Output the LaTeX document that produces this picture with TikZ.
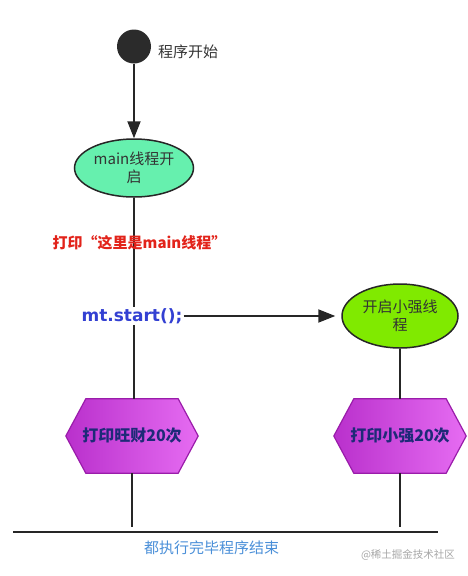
\documentclass[tikz,border=0pt]{standalone}
\usepackage{fontspec}
\setmainfont{Noto Sans CJK SC}
\newfontfamily\codefont{DejaVu Sans}
\usepackage{tikz}
\usetikzlibrary{arrows.meta,shapes.geometric,backgrounds}

\definecolor{dotgray}{HTML}{2B2B2B}
\definecolor{mainfill}{HTML}{66F0AE}
\definecolor{subfill}{HTML}{80EA00}
\definecolor{hexleft}{HTML}{B930CC}
\definecolor{hexright}{HTML}{E66CF2}
\definecolor{hexborder}{HTML}{9A1CAA}
\definecolor{hextext}{HTML}{1E2A78}
\definecolor{notered}{HTML}{E2231A}
\definecolor{codeblue}{HTML}{3340D2}
\definecolor{endblue}{HTML}{4A8FD8}

\begin{document}
\begin{tikzpicture}[x=1pt, y=-1pt,
    startdot/.style={circle, fill=dotgray, minimum size=34pt, inner sep=0pt},
    plaintext/.style={font=\fontsize{15}{18}\selectfont, text=black!80, inner sep=1pt},
    thread/.style={ellipse, draw=black!85, line width=1.5pt, minimum width=119pt, minimum height=58pt,
        align=center, inner sep=0pt, font=\fontsize{15}{17.5}\selectfont, text=black!80},
    codetext/.style={font=\codefont\bfseries\fontsize{17}{20}\selectfont, text=codeblue, inner sep=1pt},
    notetext/.style={font=\bfseries\fontsize{15}{18}\selectfont, text=notered, inner sep=1pt},
    taskbox/.style={rectangle, minimum width=132pt, minimum height=74pt, inner sep=0pt,
        font=\bfseries\fontsize{16}{19}\selectfont, text=hextext},
    hexfill/.style={draw=hexborder, line width=1.2pt, left color=hexleft, right color=hexright},
    line/.style={draw=black!85, line width=2pt},
    arrow/.style={line, -{Triangle[length=17pt, width=13pt]}}
]
\useasboundingbox (0,0) rectangle (468,576);

% Start
\node[startdot] (start) at (134,46.5) {};
\node[plaintext, anchor=west] (startlbl) at (157,52) {程序开始};

% Threads
\node[thread, fill=mainfill] (mainth) at (134,168) {main线程开\\启};
\node[codetext] (mtstart) at (132,316) {mt.start();};
\node[thread, fill=subfill, minimum width=116pt, minimum height=64pt] (subth) at (400,316) {开启小强线\\程};

% Tasks
\node[taskbox] (wangcai) at (132,436) {打印旺财20次};
\node[taskbox] (xiaoqiang) at (400,436) {打印小强20次};

\begin{scope}[on background layer]
\foreach \t in {wangcai,xiaoqiang}
  \path[hexfill] (\t.west) -- ([xshift=20pt]\t.north west) -- ([xshift=-20pt]\t.north east)
    -- (\t.east) -- ([xshift=-20pt]\t.south east) -- ([xshift=20pt]\t.south west) -- cycle;
\end{scope}

% End bar
\coordinate (barL) at (13,531.5);
\coordinate (barR) at (438,531.5);

% Connectors
\draw[arrow] (start) -- (start |- mainth.north);
\draw[line] (mainth) -- (mainth |- mtstart.north);
\draw[line] (mainth |- mtstart.south) -- (mainth |- wangcai.north);
\draw[arrow, shorten >=6pt] (mtstart.east) -- (mtstart.east -| subth.west);
\draw[line] (subth) -- (xiaoqiang);
\draw[line, shorten >=4.5pt] (wangcai) -- (wangcai |- barL);
\draw[line, shorten >=4.5pt] (xiaoqiang) -- (xiaoqiang |- barL);
\draw[line] (barL) -- (barR);

% Notes
\node[notetext] (printmain) at (139.5,243) {打印“这里是main线程”};
\node[plaintext, text=endblue] (endlbl) at (211.5,548) {都执行完毕程序结束};
\node[plaintext, font=\fontsize{10.5}{12}\selectfont, text=black!35] (watermark) at (408,555) {@稀土掘金技术社区};

\end{tikzpicture}
\end{document}
